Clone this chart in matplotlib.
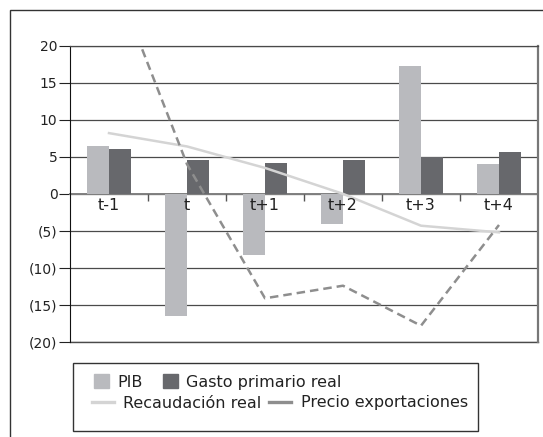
import matplotlib

matplotlib.use("Agg")

import matplotlib.pyplot as plt
import numpy as np
from matplotlib.patches import Patch, Rectangle
from matplotlib.lines import Line2D

# values
categories = ["t-1", "t", "t+1", "t+2", "t+3", "t+4"]
pib = [6.4, -16.5, -8.2, -4.1, 17.2, 4.0]
gasto = [6.0, 4.6, 4.1, 4.6, 5.0, 5.6]
recaudacion = [8.2, 6.4, 3.5, 0.0, -4.3, -5.2]
precio = [31.0, 4.0, -14.1, -12.4, -17.8, -4.2]
yticks = [20, 15, 10, 5, 0, -5, -10, -15, -20]
ytick_labels = ["20", "15", "10", "5", "0", "(5)", "(10)", "(15)", "(20)"]

c_pib = "#b9babe"
c_gasto = "#67686c"
c_rec = "#d4d4d4"
c_precio = "#8e8e8e"
grid_c = "#4a4a4a"

plt.rcParams["font.family"] = "DejaVu Sans"
plt.rcParams["font.size"] = 10

fig = plt.figure(figsize=(5.43, 4.37), dpi=100)
ax = fig.add_axes([70 / 543, 1 - 342 / 437, 468 / 543, (342 - 45.7) / 437])

x = np.arange(len(categories))
w = 0.28
ax.bar(x - w / 2, pib, width=w, color=c_pib, zorder=2)
ax.bar(x + w / 2, gasto, width=w, color=c_gasto, zorder=2)
ax.plot(x, recaudacion, color=c_rec, linewidth=1.8, zorder=3)
ax.plot(x, precio, color=c_precio, linewidth=1.8, dashes=(3.4, 2), zorder=4)

ax.set_xlim(-0.5, len(categories) - 0.5)
ax.set_ylim(-20, 20)
ax.set_yticks(yticks)
ax.set_yticklabels(ytick_labels, color="#222222")
ax.yaxis.grid(True, color=grid_c, linewidth=0.9)
ax.set_axisbelow(True)
ax.axhline(-20, color=grid_c, linewidth=1.0, clip_on=False, zorder=1)
ax.tick_params(axis="y", length=8, pad=1, width=0.8, color="#222222")

# category axis sits on the zero line, labels drawn over the bars
ax.spines["bottom"].set_position(("data", 0))
ax.spines["bottom"].set_color("#808080")
ax.spines["bottom"].set_linewidth(1.4)
ax.spines["bottom"].set_zorder(1.5)
ax.set_xticks(x)
ax.set_xticklabels(categories, color="#222222", fontsize=11.5)
ax.set_xticks(x[:-1] + 0.5, minor=True)
ax.tick_params(axis="x", which="major", length=0, pad=3)
ax.tick_params(axis="x", which="minor", length=5, width=1.0, color="#555555")
ax.xaxis.set_zorder(5)
ax.spines["left"].set_color("#111111")
ax.spines["left"].set_linewidth(0.8)
ax.spines["right"].set_color("#777777")
ax.spines["right"].set_linewidth(1.6)
ax.spines["top"].set_color(grid_c)
ax.spines["top"].set_linewidth(0.9)

# outer frame and legend box
fig.patches.append(Rectangle((10 / 543, -0.1), 1.0, (437 - 9.5) / 437 + 0.1,
                             transform=fig.transFigure, fill=False,
                             edgecolor="#333333", linewidth=1.0))
fig.patches.append(Rectangle((73 / 543, 1 - 430.7 / 437), 405 / 543, 67.7 / 437,
                             transform=fig.transFigure, fill=False,
                             edgecolor="#333333", linewidth=1.0))

row1 = [Patch(color=c_pib), Patch(color=c_gasto)]
leg1 = fig.legend(row1, ["PIB", "Gasto primario real"], ncol=2, frameon=False,
                  loc="center left", bbox_to_anchor=(94 / 543, 1 - 382 / 437),
                  fontsize=11.5, borderpad=0, borderaxespad=0,
                  handlelength=0.95, handleheight=0.95,
                  handletextpad=0.5, columnspacing=1.3)
row2 = [Line2D([], [], color=c_rec, linewidth=2.4),
        Line2D([], [], color=c_precio, linewidth=2.4)]
leg2 = fig.legend(row2, ["Recaudación real", "Precio exportaciones"], ncol=2,
                  frameon=False, loc="center left",
                  bbox_to_anchor=(92 / 543, 1 - 403 / 437),
                  fontsize=11.5, borderpad=0, borderaxespad=0,
                  handlelength=1.35, handletextpad=0.6, columnspacing=0.5)
for leg in (leg1, leg2):
    for t in leg.get_texts():
        t.set_color("#222222")

fig.savefig("out.png", dpi=100)
plt.close(fig)
